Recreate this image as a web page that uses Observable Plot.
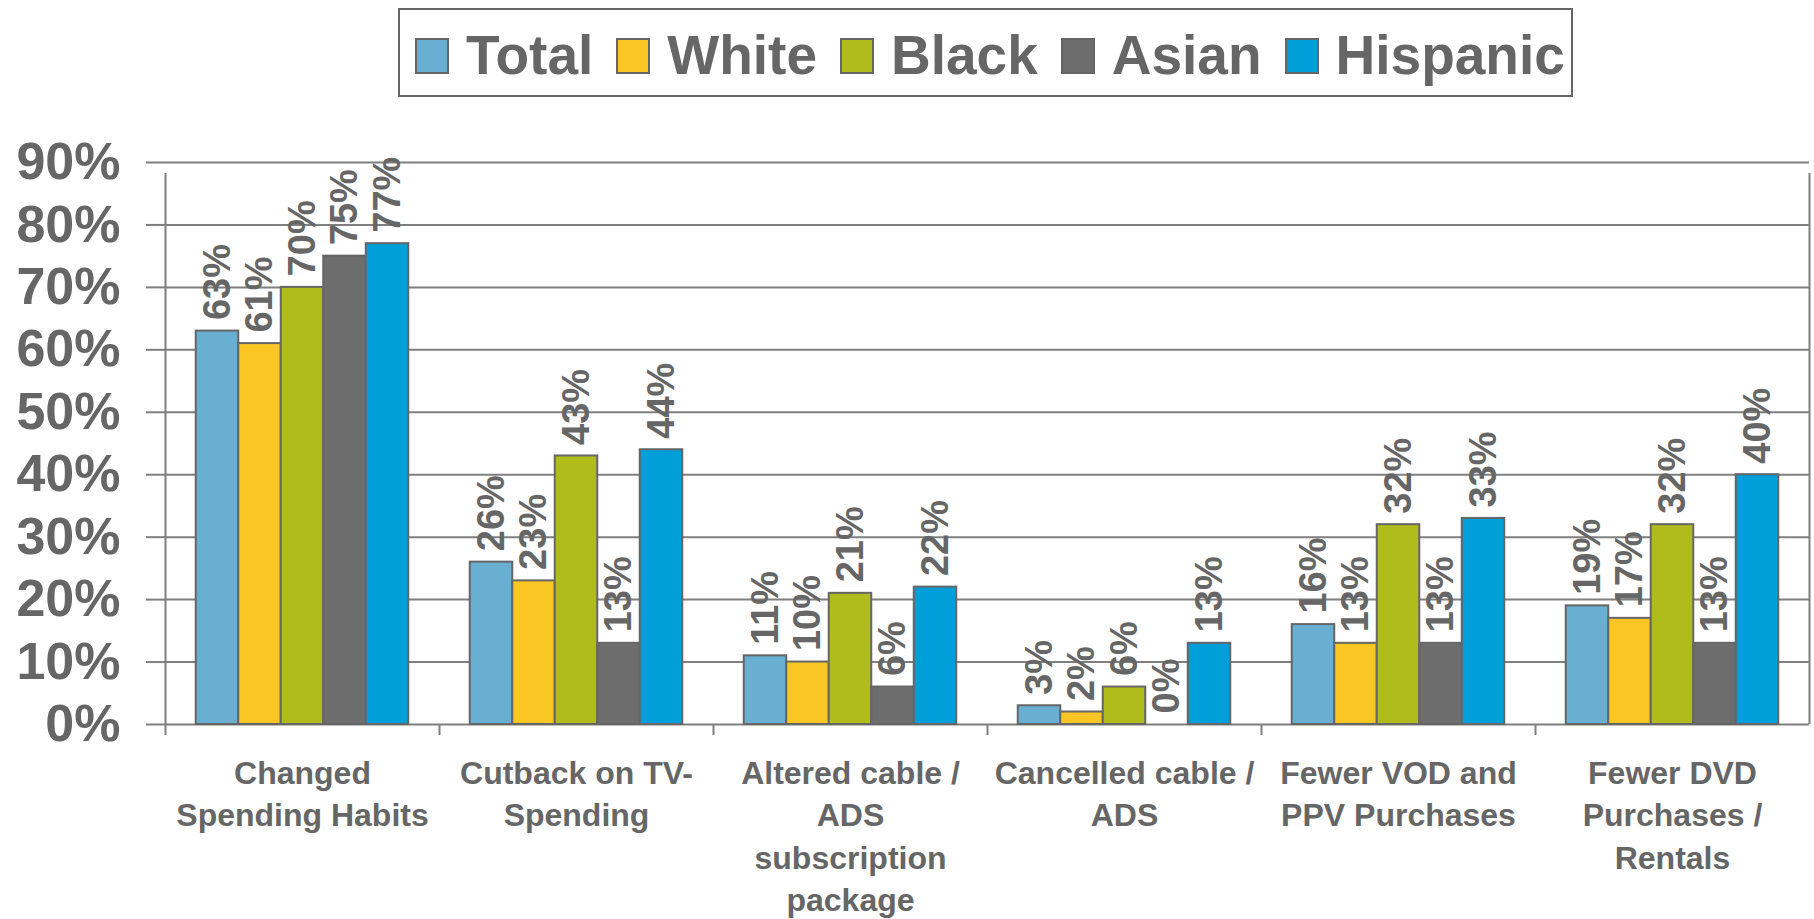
<!DOCTYPE html>
<html>
<head>
<meta charset="utf-8">
<script src="https://cdn.jsdelivr.net/npm/d3@7"></script>
<script src="https://cdn.jsdelivr.net/npm/@observablehq/plot@0.6"></script>
<style>
  body { margin: 0; background: #fff; font-family: "Liberation Sans", Arial, sans-serif; }
  #wrap { position: relative; width: 1814px; height: 919px; overflow: hidden; background: #fff; }
  #legend {
    position: absolute; left: 398px; top: 8px; width: 1171px; height: 79px;
    border: 2px solid #666; display: flex; align-items: center; padding-top: 6px; box-sizing: content-box;
  }
  #legend .item { display: flex; align-items: center; margin-left: 15px; margin-right: 8px; }
  #legend .sw { width: 30px; height: 32px; border: 2px solid #666; margin-right: 17px; }
  #legend .lab { font-size: 55px; font-weight: bold; color: #666; line-height: 1; }
  #chart { position: absolute; left: 0; top: 100px; }
</style>
</head>
<body>
<div id="wrap">
  <div id="legend"></div>
  <div id="chart"></div>
</div>
<script>
const categories = [
  "Changed Spending Habits",
  "Cutback on TV-Spending",
  "Altered cable / ADS subscription package",
  "Cancelled cable / ADS",
  "Fewer VOD and PPV Purchases",
  "Fewer DVD Purchases / Rentals"
];
const categoryLabels = [
  "Changed\nSpending Habits",
  "Cutback on TV-\nSpending",
  "Altered cable /\nADS\nsubscription\npackage",
  "Cancelled cable /\nADS",
  "Fewer VOD and\nPPV Purchases",
  "Fewer DVD\nPurchases /\nRentals"
];
const series = ["Total", "White", "Black", "Asian", "Hispanic"];
const seriesColors = ["#68afd1", "#f9c624", "#b0bc1c", "#6d6d6d", "#009fda"];

const total    = [63, 26, 11, 3, 16, 19];
const white    = [61, 23, 10, 2, 13, 17];
const black    = [70, 43, 21, 6, 32, 32];
const asian    = [75, 13, 6, 0, 13, 13];
const hispanic = [77, 44, 22, 13, 33, 40];

const yTicks = [0, 10, 20, 30, 40, 50, 60, 70, 80, 90];

const valuesBySeries = [total, white, black, asian, hispanic];
const data = categories.flatMap((c, i) =>
  series.map((s, j) => ({category: c, series: s, value: valuesBySeries[j][i]}))
);

// legend
const legend = document.getElementById("legend");
series.forEach((s, j) => {
  const it = document.createElement("div");
  it.className = "item";
  const sw = document.createElement("div");
  sw.className = "sw";
  sw.style.background = seriesColors[j];
  const lab = document.createElement("div");
  lab.className = "lab";
  lab.textContent = s;
  it.appendChild(sw); it.appendChild(lab);
  legend.appendChild(it);
});

const W = 1814, H = 819, ML = 165, MR = 5, MT = 62, MB = 195;
const po = 0.7235;
const facetW = (W - ML - MR) / categories.length;
const bw = facetW / (series.length + 2 * po);
const edge = po * bw + bw / 2;
const font = "Liberation Sans, Arial, sans-serif";
const grey = "#7f7f7f";
const textGrey = "#666666";

const chart = Plot.plot({
  width: W, height: H,
  marginTop: MT, marginBottom: MB, marginLeft: ML, marginRight: MR,
  style: {fontFamily: font, background: "white", overflow: "visible"},
  fx: {domain: categories, padding: 0, round: false, label: null},
  x: {domain: series, paddingInner: 0, paddingOuter: po, round: false, axis: null},
  y: {domain: [0, 90], label: null},
  color: {domain: series, range: seriesColors},
  marks: [
    Plot.ruleY(yTicks, {stroke: grey, strokeWidth: 2}),
    Plot.axisY({ticks: yTicks, tickSize: 19, tickPadding: 26, tickFormat: d => d + "%",
      stroke: grey, strokeWidth: 2, fill: textGrey, fontSize: 52, fontWeight: "bold", label: null}),
    Plot.ruleX(categories, {fx: d => d, x: () => series[0], dx: -edge, y1: 0, y2: 0, insetBottom: -11, stroke: grey, strokeWidth: 2}),
    Plot.ruleX([categories[0]], {fx: d => d, x: () => series[0], dx: -edge, y1: 0, y2: 90, insetBottom: -11, stroke: grey, strokeWidth: 2}),
    Plot.ruleX([categories[categories.length - 1]], {fx: d => d, x: () => series[series.length - 1], dx: edge, y1: 0, y2: 90, insetBottom: -11, stroke: grey, strokeWidth: 2}),
    Plot.barY(data, {fx: "category", x: "series", y: "value", fill: "series", stroke: "#666", strokeWidth: 2, inset: 0}),
    Plot.text(data, {fx: "category", x: "series", y: "value", text: d => d.value + "%",
      rotate: -90, textAnchor: "start", dy: -11, fontSize: 38, fontWeight: "bold", fill: textGrey}),
    Plot.axisFx({anchor: "bottom", tickSize: 0, tickPadding: 29, tickFormat: c => categoryLabels[categories.indexOf(c)],
      fontSize: 32, fontWeight: "bold", fill: textGrey, lineHeight: 1.33, label: null})
  ]
});
document.getElementById("chart").appendChild(chart);
</script>
</body>
</html>
